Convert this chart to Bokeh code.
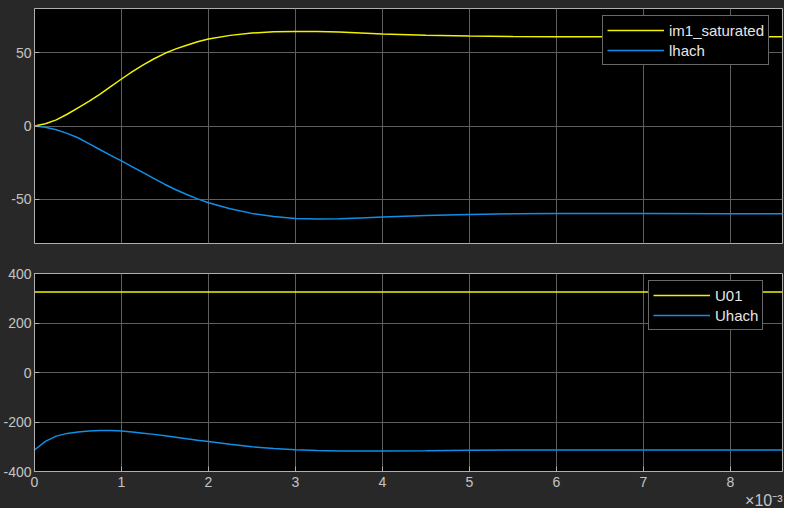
from bokeh.plotting import figure
from bokeh.layouts import column
from bokeh.models import FixedTicker, Range1d, Legend, LegendItem, Title
from bokeh.embed import file_html
from bokeh.resources import INLINE

# time in units of 1e-3 s
t_ms = [0, 0.125, 0.25, 0.375, 0.5, 0.625, 0.75, 0.875, 1, 1.125, 1.25, 1.375,
        1.5, 1.625, 1.75, 1.875, 2, 2.25, 2.5, 2.75, 3, 3.25, 3.5, 3.75, 4,
        4.5, 5, 5.5, 6, 7, 8, 8.6]
im1_saturated = [0, 1.5, 4.2, 8.0, 12.4, 16.8, 21.6, 26.8, 32.0, 37.0, 41.6, 45.8,
                 49.5, 52.5, 55.0, 57.3, 59.2, 61.7, 63.3, 64.1, 64.4, 64.4, 64.0, 63.3, 62.6,
                 61.8, 61.2, 60.9, 60.8, 60.8, 60.8, 60.8]
lhach = [0, -0.8, -2.5, -5.0, -8.0, -12.0, -16.0, -20.0, -23.8, -27.8, -31.8, -35.8,
         -39.8, -43.4, -46.6, -49.6, -52.2, -56.3, -59.5, -61.6, -62.9, -63.4, -63.2, -62.6, -62.0,
         -61.0, -60.2, -59.8, -59.5, -59.5, -59.7, -59.8]
U01 = [325] * len(t_ms)
Uhach = [-313, -278, -257, -246, -240, -236, -234.5, -234.5, -236, -240, -245, -250,
         -256, -262, -268, -274, -279, -290, -300, -307, -312, -315.5, -317, -317.5, -317,
         -316, -314.5, -313.5, -313, -313, -313, -313]

x_ticks = [0, 1, 2, 3, 4, 5, 6, 7, 8]
top_y_ticks = [-50, 0, 50]
bottom_y_ticks = [-400, -200, 0, 200, 400]
x_exponent = "×10⁻³"

BG = "#282828"
AX = "#afafaf"
GRID = "#5e5e5e"
YEL = "#f2f200"
BLU = "#0f8fe8"
TXT = "#c4c4c4"
FONT = "Liberation Sans"


def style(p, yticks, show_x):
    p.background_fill_color = "black"
    p.border_fill_color = BG
    p.outline_line_color = AX
    p.outline_line_width = 1
    p.xaxis.ticker = FixedTicker(ticks=x_ticks)
    p.yaxis.ticker = FixedTicker(ticks=yticks)
    p.yaxis.major_label_overrides = {v: str(v) for v in yticks}
    for ax in (p.xaxis[0], p.yaxis[0]):
        ax.axis_line_color = AX
        ax.major_tick_line_color = AX
        ax.major_tick_in = 5
        ax.major_tick_out = 0
        ax.minor_tick_line_color = None
        ax.major_label_text_color = TXT
        ax.major_label_text_font = FONT
        ax.major_label_text_font_size = "14px"
    p.yaxis.major_label_standoff = 3
    p.xaxis.major_label_standoff = 5
    if not show_x:
        p.xaxis.visible = False
    p.grid.grid_line_color = GRID
    p.grid.grid_line_width = 1


def make_legend(items, loc):
    lg = Legend(items=items, location=loc)
    lg.background_fill_color = "black"
    lg.background_fill_alpha = 1
    lg.border_line_color = "#d0d0d0"
    lg.border_line_width = 1
    lg.label_text_color = "#e6e6e6"
    lg.label_text_font = FONT
    lg.label_text_font_size = "15px"
    lg.glyph_width = 57
    lg.glyph_height = 20
    lg.label_height = 20
    lg.label_standoff = 5
    lg.padding = 4
    lg.spacing = 0
    lg.margin = 0
    return lg


p1 = figure(frame_width=748, frame_height=235, output_backend="svg",
            toolbar_location=None, x_range=Range1d(0, 8.6), y_range=Range1d(-80, 80),
            min_border_left=34, min_border_right=2, min_border_top=8,
            min_border_bottom=15)
style(p1, top_y_ticks, False)
r1 = p1.line(t_ms, im1_saturated, line_color=YEL, line_width=1.5)
r2 = p1.line(t_ms, lhach, line_color=BLU, line_width=1.5)
p1.add_layout(make_legend([LegendItem(label="im1_saturated", renderers=[r1]),
                           LegendItem(label="lhach", renderers=[r2])], (568, 178)))

p2 = figure(frame_width=748, frame_height=198, output_backend="svg",
            toolbar_location=None, x_range=Range1d(0, 8.6), y_range=Range1d(-400, 400),
            min_border_left=34, min_border_right=2, min_border_top=15,
            min_border_bottom=0)
style(p2, bottom_y_ticks, True)
r3 = p2.line(t_ms, U01, line_color=YEL, line_width=1.5)
r4 = p2.line(t_ms, Uhach, line_color=BLU, line_width=1.5)
p2.add_layout(make_legend([LegendItem(label="U01", renderers=[r3]),
                           LegendItem(label="Uhach", renderers=[r4])], (614, 141)))

p2.add_layout(Title(text=x_exponent, align="right", text_font=FONT,
                    text_font_size="16px", text_font_style="normal",
                    text_color=TXT, standoff=0, offset=0), "below")

layout = column(p1, p2, spacing=0, styles={"background-color": BG})
open("out.html", "w").write(file_html(layout, INLINE))
